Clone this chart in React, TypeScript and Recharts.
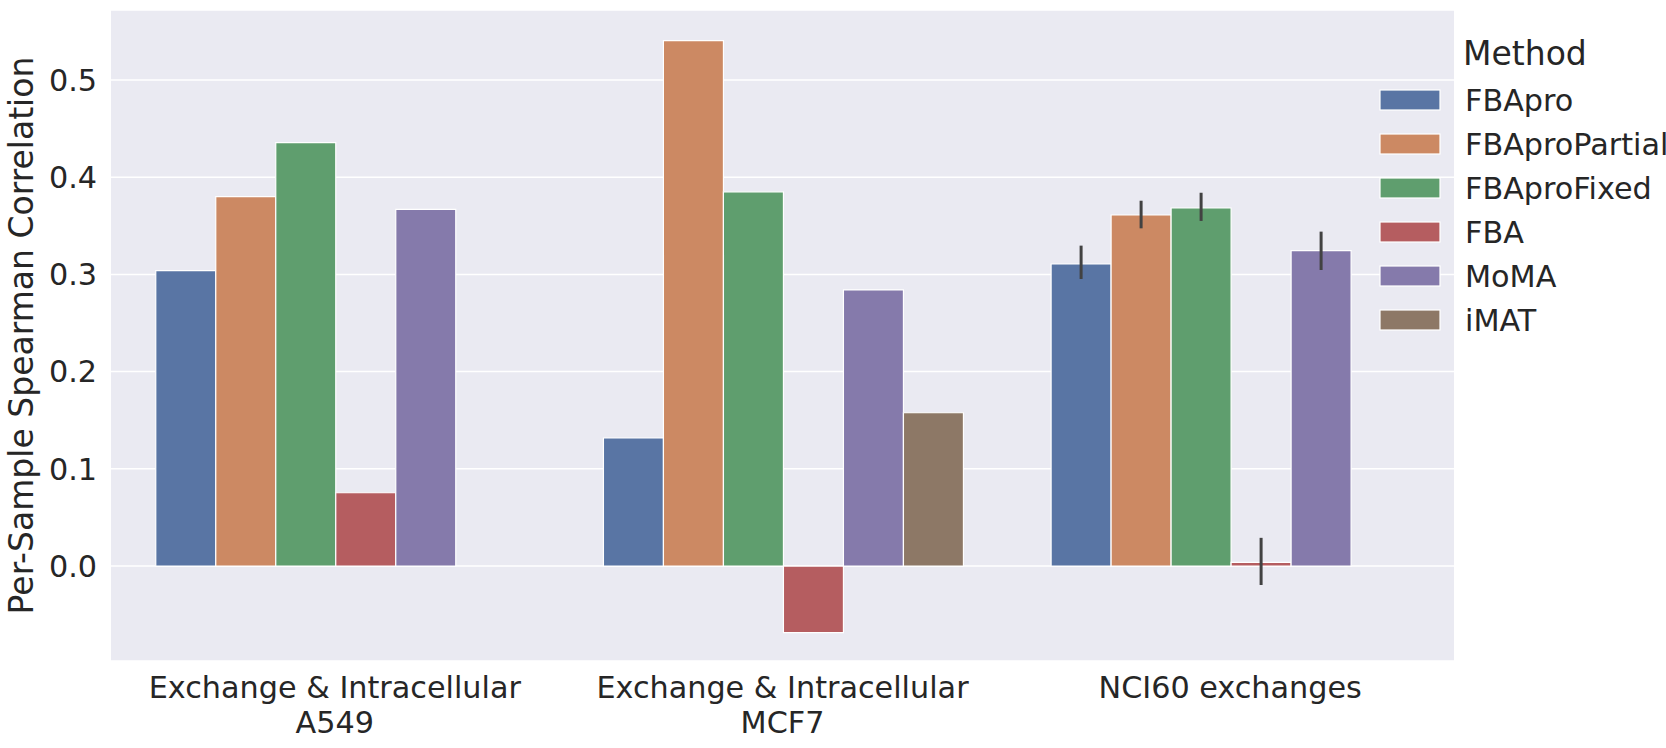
import React from 'react';
import { BarChart, Bar, XAxis, YAxis, CartesianGrid, ErrorBar } from 'recharts';

const categories = [
  'Exchange & Intracellular\nA549',
  'Exchange & Intracellular\nMCF7',
  'NCI60 exchanges',
];
const methods = ['FBApro', 'FBAproPartial', 'FBAproFixed', 'FBA', 'MoMA', 'iMAT'];
const colors = ['#5975a4', '#cc8963', '#5f9e6e', '#b55d60', '#857aab', '#8d7866'];

const fbapro = [0.3038, 0.1317, 0.3107];
const fbaproPartial = [0.3800, 0.5405, 0.3611];
const fbaproFixed = [0.4355, 0.3850, 0.3683];
const fba = [0.0754, -0.0686, 0.0038];
const moma = [0.3670, 0.2840, 0.3244];
const imat = [null, 0.1577, null];

// asymmetric error deltas [below, above]
const fbaproErr = [null, null, [0.0154, 0.0189]];
const fbaproPartialErr = [null, null, [0.0137, 0.0147]];
const fbaproFixedErr = [null, null, [0.0133, 0.0157]];
const fbaErr = [null, null, [0.0233, 0.0252]];
const momaErr = [null, null, [0.0199, 0.0196]];
const imatErr = [null, null, null];

const yTicks = [0, 0.1, 0.2, 0.3, 0.4, 0.5];
const yDomain = [-0.0977, 0.572];

const seriesValues = [fbapro, fbaproPartial, fbaproFixed, fba, moma, imat];
const seriesErrs = [fbaproErr, fbaproPartialErr, fbaproFixedErr, fbaErr, momaErr, imatErr];

const data = categories.map((c, i) => {
  const row: any = { category: c };
  methods.forEach((m, j) => {
    row[m] = seriesValues[j][i];
    row[m + '_err'] = seriesErrs[j][i];
  });
  return row;
});

const FONT = 'DejaVu Sans';
const TEXT = '#262626';

const XTick = (props: any) => {
  const { x, y, payload } = props;
  const lines = String(payload.value).split('\n');
  return (
    <g transform={`translate(${x},${y})`}>
      <text textAnchor="middle" fill={TEXT} fontSize={30.25} fontFamily={FONT}>
        {lines.map((l: string, i: number) => (
          <tspan key={i} x={0} y={37 + i * 35}>
            {l}
          </tspan>
        ))}
      </text>
    </g>
  );
};

const YLabel = (props: any) => {
  const vb = props.viewBox || { x: 0, y: 10, width: 111, height: 651 };
  const cx = vb.x + 33;
  const cy = vb.y + vb.height / 2;
  return (
    <text
      x={cx}
      y={cy}
      transform={`rotate(-90 ${cx} ${cy})`}
      textAnchor="middle"
      fill={TEXT}
      fontSize={33}
      fontFamily={FONT}
    >
      Per-Sample Spearman Correlation
    </text>
  );
};

export default function App() {
  return (
    <div style={{ position: 'absolute', left: 0, top: 0, width: 1666, height: 748, background: '#fff' }}>
      <BarChart
        width={1666}
        height={748}
        data={data}
        margin={{ top: 10, right: 212, bottom: 0, left: 0 }}
        barGap={0}
        barCategoryGap="10%"
      >
        <CartesianGrid vertical={false} fill="#eaeaf2" stroke="#ffffff" strokeWidth={1.5} />
        <XAxis
          dataKey="category"
          height={87}
          axisLine={false}
          tickLine={false}
          tickSize={0}
          tickMargin={0}
          interval={0}
          tick={<XTick />}
        />
        <YAxis
          width={111}
          domain={yDomain}
          ticks={yTicks}
          type="number"
          allowDataOverflow
          axisLine={false}
          tickLine={false}
          tickSize={0}
          tickMargin={14}
          tickFormatter={(v: number) => v.toFixed(1)}
          tick={{ fill: TEXT, fontSize: 30.25, fontFamily: FONT }}
          label={<YLabel />}
        />
        {methods.map((m, j) => (
          <Bar
            key={m}
            dataKey={m}
            fill={colors[j]}
            stroke="#ffffff"
            strokeWidth={1.2}
            isAnimationActive={false}
          >
            <ErrorBar dataKey={m + '_err'} width={0} stroke="#424242" strokeWidth={3} direction="y" />
          </Bar>
        ))}
      </BarChart>
      <svg
        width={1666}
        height={748}
        style={{ position: 'absolute', left: 0, top: 0, pointerEvents: 'none' }}
      >
        <text x={1463} y={65} fill={TEXT} fontSize={33} fontFamily={FONT}>
          Method
        </text>
        {methods.map((m, i) => (
          <g key={m}>
            <rect x={1380} y={90 + 44 * i} width={60} height={20} fill={colors[i]} stroke="#ffffff" strokeWidth={1.2} />
            <text x={1465} y={110.7 + 44 * i} fill={TEXT} fontSize={30.25} fontFamily={FONT}>
              {m}
            </text>
          </g>
        ))}
      </svg>
    </div>
  );
}
